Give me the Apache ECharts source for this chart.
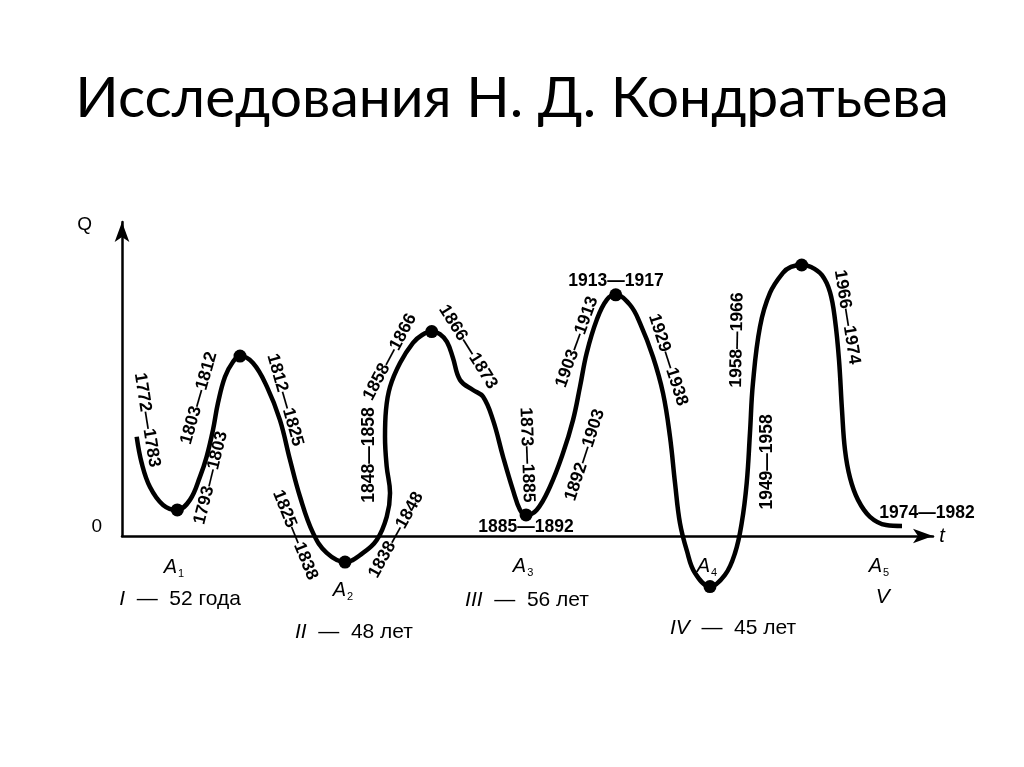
<!DOCTYPE html>
<html><head><meta charset="utf-8">
<script src="https://cdn.jsdelivr.net/npm/echarts@6/dist/echarts.min.js"></script>
<style>html,body{margin:0;padding:0;background:#fff}#c{width:1024px;height:767px}</style>
</head><body><div id="c"></div>
<script>
// ---- data (t: conventional time units, Q: conjuncture level) ----
const titleText = 'Исследования Н. Д. Кондратьева';
const curveT = [1.81,2.43,3.45,5.06,6.82,8.38,9.62,10.44,11.22,11.84,12.70,13.69,14.55,16.15,17.88,19.48,20.72,21.95,23.55,25.24,27.50,29.72,31.41,32.64,33.05,32.64,32.43,32.55,33.05,34.28,35.88,37.00,38.19,39.20,40.07,40.81,41.68,43.28,44.51,45.75,46.98,48.21,49.08,49.82,51.13,52.77,54.38,55.61,56.47,57.30,58.53,59.77,60.88,62.64,63.87,65.47,66.71,67.57,68.19,68.80,69.63,70.65,72.50,74.35,75.59,76.41,77.03,77.43,77.80,78.67,79.90,81.50,82.49,83.81,84.96,86.31,87.30,87.92,88.41,88.78,89.15,89.77,90.75,92.23,94.21,96.18];
const curveQ = [31.6,23.2,15.6,9.9,8.3,11.5,18.9,25.3,33.8,42.4,50.7,55.5,57.3,55.1,47.5,36.9,24.2,12.5,1.0,-5.4,-8.3,-5.4,-1.3,6.1,13.7,22.1,31.6,40.1,47.5,55.1,61.5,64.0,65.1,64.3,61.8,56.7,49.7,46.5,44.4,36.9,25.3,14.6,8.3,6.7,8.3,15.7,26.4,36.9,47.5,58.3,68.8,75.2,76.8,73.6,67.8,57.1,45.5,31.6,16.9,4.1,-4.5,-11.8,-16.1,-12.4,-5.4,4.1,16.9,32.8,48.7,66.7,77.4,83.8,85.7,86.3,85.7,83.1,77.7,68.8,56.1,40.1,27.4,18.5,11.5,6.1,3.5,3.2];
const turnT = [6.82,14.55,27.50,38.19,49.82,60.88,72.50,83.81];
const turnQ = [8.3,57.3,-8.3,65.1,6.7,76.8,-16.1,86.3];
const yearLabels = ['1772—1783','1793—1803','1803—1812','1812—1825','1825—1838','1838—1848','1848—1858','1858—1866','1866—1873','1873—1885','1885—1892','1892—1903','1903—1913','1913—1917','1929—1938','1958—1966','1949—1958','1966—1974','1974—1982'];
const yearLabelT = [3.08,10.97,9.49,20.10,21.33,33.79,30.46,33.05,42.66,49.94,49.82,57.09,56.10,60.91,67.32,75.83,79.53,89.40,99.26];
const yearLabelQ = [36.9,18.5,43.9,43.3,0.3,0.3,25.8,57.0,60.2,25.8,2.9,25.8,61.8,81.2,56.1,62.4,23.6,69.7,7.3];
const yearLabelAngle = [-81,76,74,-74,-68,61,90,62,-58,-88,0,72,70,0,-72,89,90,-81,0];
const troughNames = ['1','2','3','4','5'];
const troughT = [6.41,27.25,49.45,72.13,93.34];
const troughQ = [-9.9,-17.2,-9.6,-9.6,-9.6];
const waveNames = ['I','II','III','IV','V'];
const waveTexts = ['52 года','48 лет','56 лет','45 лет',''];
const waveT = [7.15,28.6,49.94,75.34,93.8];
const waveQ = [-20.1,-30.6,-20.4,-29.3,-19.4];

const F = '"Liberation Sans", Arial, sans-serif';
const chart = echarts.init(document.getElementById('c'), null, {renderer:'canvas'});
const curve = curveT.map((t,i)=>[t,curveQ[i]]);
const turns = turnT.map((t,i)=>[t,turnQ[i]]);
const yearData = yearLabels.map((s,i)=>({value:[yearLabelT[i],yearLabelQ[i]], name:s, label:{rotate:yearLabelAngle[i]}}));
const troughData = troughNames.map((s,i)=>({value:[troughT[i],troughQ[i]], name:s}));
const waveData = waveNames.map((s,i)=>({value:[waveT[i],waveQ[i]], name:s, txt:waveTexts[i]}));
const solid = {color:'#000',opacity:1};

chart.setOption({
  animation:false,
  backgroundColor:'#fff',
  title:{text:titleText,left:'center',top:65,textStyle:{fontFamily:'Lato, "Open Sans", sans-serif',fontSize:57,fontWeight:'normal',color:'#000'}},
  grid:{left:122,right:91,top:222,bottom:231},
  xAxis:{type:'value',min:0,max:100,
    name:'t',nameLocation:'end',nameGap:9,
    nameTextStyle:{fontFamily:F,fontSize:20,fontStyle:'italic',color:'#000',align:'center',verticalAlign:'middle',padding:[54,0,0,0]},
    axisLine:{show:true,onZero:true,symbol:['none','arrow'],symbolSize:[11,20],symbolOffset:[0,0],lineStyle:{color:'#000',width:2.5}},
    axisTick:{show:false},axisLabel:{show:false},splitLine:{show:false}},
  yAxis:{type:'value',min:0,max:100,interval:100,
    name:'Q',nameLocation:'end',nameGap:-3,
    nameTextStyle:{fontFamily:F,fontSize:19,color:'#000',align:'right',verticalAlign:'middle',padding:[0,30,0,0]},
    axisLine:{show:true,symbol:['none','arrow'],symbolSize:[11,20],symbolOffset:[0,0],lineStyle:{color:'#000',width:2.5}},
    axisTick:{show:false},splitLine:{show:false},
    axisLabel:{show:true,margin:20,fontFamily:F,fontSize:19,color:'#000',verticalAlign:'bottom',formatter:v=>v===0?'0':''}},
  series:[
    {type:'line',data:curve,smooth:0.4,showSymbol:false,clip:false,lineStyle:{color:'#000',width:4.5,opacity:1},z:3},
    {type:'scatter',data:turns,symbolSize:13,clip:false,itemStyle:solid,z:4},
    {type:'scatter',data:yearData,symbolSize:0,clip:false,z:5,itemStyle:solid,
      label:{show:true,position:'inside',formatter:p=>p.name,fontFamily:F,fontSize:17.5,fontWeight:'bold',color:'#000',opacity:1}},
    {type:'scatter',data:troughData,symbolSize:0,clip:false,z:5,itemStyle:solid,
      label:{show:true,position:'inside',opacity:1,formatter:p=>'{a|A}{s|'+p.name+'}',
        rich:{a:{fontFamily:F,fontSize:20,fontStyle:'italic',color:'#000',lineHeight:24,verticalAlign:'middle'},
              s:{fontFamily:F,fontSize:11,color:'#000',verticalAlign:'bottom',padding:[0,0,0,1],lineHeight:22}}}},
    {type:'scatter',data:waveData,symbolSize:0,clip:false,z:5,itemStyle:solid,
      label:{show:true,position:'inside',opacity:1,
        formatter:p=>p.data.txt?'{r|'+p.name+'}{n|  —  '+p.data.txt+'}':'{r|'+p.name+'}',
        rich:{r:{fontFamily:F,fontSize:21,fontStyle:'italic',color:'#000'},n:{fontFamily:F,fontSize:21,color:'#000'}}}}
  ]
});
</script></body></html>
